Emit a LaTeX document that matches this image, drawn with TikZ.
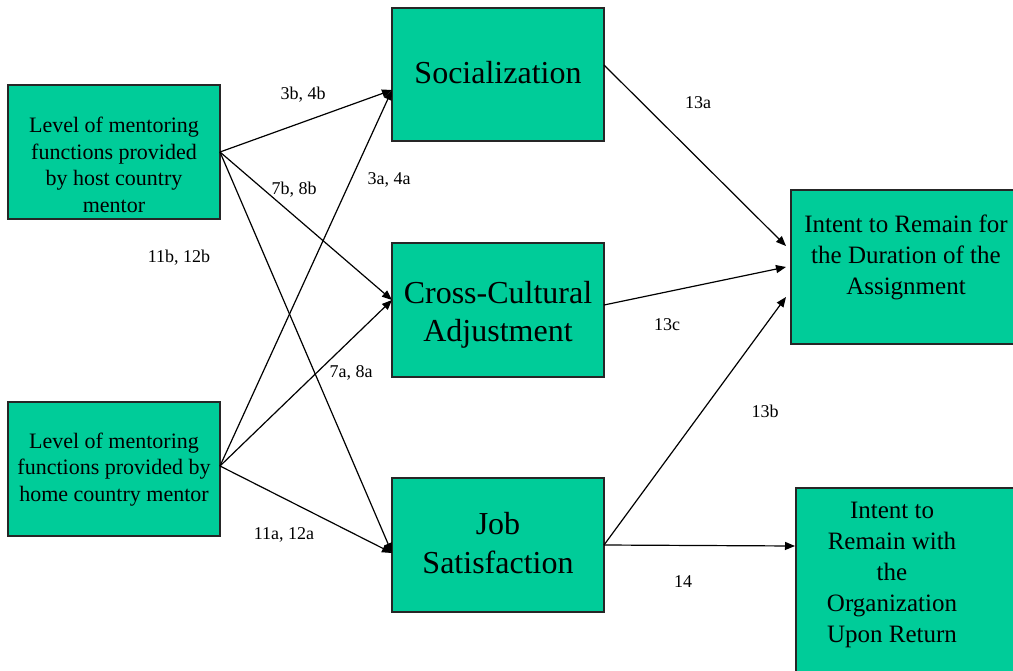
\documentclass[tikz,border=0pt]{standalone}
\usepackage{fontspec}
\setmainfont{Liberation Serif}
\usetikzlibrary{arrows.meta}
\definecolor{boxgreen}{RGB}{0,204,153}
\begin{document}
\begin{tikzpicture}[x=1pt,y=-1pt,
  box/.style={draw=black!85, line width=1.2pt, fill=boxgreen, rectangle, inner sep=0pt},
  boxtext/.style={align=center, inner sep=0pt, text=black},
  bigtext/.style={font=\fontsize{32}{38.5}\selectfont},
  midtext/.style={font=\fontsize{25}{31}\selectfont},
  smalltext/.style={font=\fontsize{22}{26.7}\selectfont},
  link/.style={line width=1.2pt, -{Triangle[length=10pt,width=8pt]}},
  tag/.style={font=\fontsize{18}{21}\selectfont, inner sep=0pt}]

\clip (0,0) rectangle (1013,670);
\fill[white] (0,0) rectangle (1013,670);

% predictor boxes
\node[box, minimum width=212pt, minimum height=134pt] (host) at (114,152) {};
\node[boxtext, smalltext] (hostT) at (114,165) {Level of mentoring\\functions provided\\by host country\\mentor};
\node[box, minimum width=212pt, minimum height=134pt] (home) at (114,469) {};
\node[boxtext, smalltext] (homeT) at (114,469.5) {Level of mentoring\\functions provided by\\home country mentor};

% mediator boxes
\node[box, minimum width=212pt, minimum height=133pt] (soc) at (498,74.5) {};
\node[boxtext, bigtext] (socT) at (498,73) {Socialization};
\node[box, minimum width=212pt, minimum height=134pt] (cca) at (498,310) {};
\node[boxtext, bigtext] (ccaT) at (498,315) {Cross-Cultural\\Adjustment};
\node[box, minimum width=212pt, minimum height=134pt] (job) at (498,545) {};
\node[boxtext, bigtext] (jobT) at (498,543) {Job\\Satisfaction};

% outcome boxes
\node[box, minimum width=239pt, minimum height=154pt] (stay) at (910.5,267) {};
\node[boxtext, midtext] (stayT) at (906,257) {Intent to Remain for\\the Duration of the\\Assignment};
\node[box, minimum width=234pt, minimum height=212pt] (org) at (913,594) {};
\node[boxtext, midtext] (orgT) at (892,575) {Intent to\\Remain with\\the\\Organization\\Upon Return};

% connector end points on the box edges
\coordinate (socIn) at (392,90);
\coordinate (ccaIn) at (392,300);
\coordinate (jobIn) at (392,553);
\coordinate (socOut) at (604,65);
\coordinate (ccaOut) at (604,305);
\coordinate (jobOut) at (604,545);
\coordinate (stayInA) at (786,246);
\coordinate (stayInC) at (786,267);
\coordinate (stayInB) at (786,297);
\coordinate (orgIn) at (795,546);
\coordinate (hostOut) at (220,152);
\coordinate (homeOut) at (220,466);

\draw[link] (hostOut) -- (socIn);
\draw[link] (hostOut) -- (ccaIn);
\draw[link] (hostOut) -- (jobIn);
\draw[link] (homeOut) -- (socIn);
\draw[link] (homeOut) -- (ccaIn);
\draw[link] (homeOut) -- (jobIn);
\draw[link] (socOut) -- (stayInA);
\draw[link] (ccaOut) -- (stayInC);
\draw[link] (jobOut) -- (stayInB);
\draw[link] (jobOut) -- (orgIn);

% path labels
\node[tag] (l3b) at (303,95) {3b, 4b};
\node[tag] (l7b) at (294,190) {7b, 8b};
\node[tag] (l3a) at (389,180) {3a, 4a};
\node[tag] (l11b) at (179,258) {11b, 12b};
\node[tag] (l7a) at (351,373) {7a, 8a};
\node[tag] (l11a) at (284,535) {11a, 12a};
\node[tag] (l13a) at (698,103) {13a};
\node[tag] (l13c) at (667,325) {13c};
\node[tag] (l13b) at (765,411) {13b};
\node[tag] (l14) at (683,582) {14};
\end{tikzpicture}
\end{document}
